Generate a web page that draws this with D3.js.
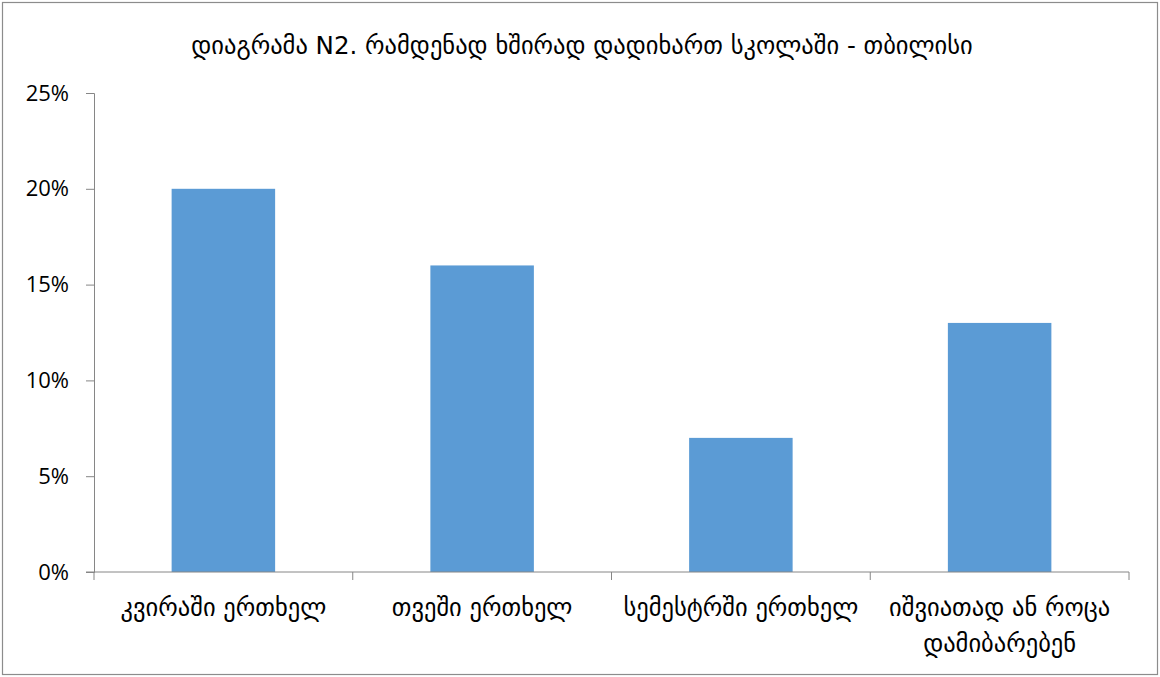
<!DOCTYPE html>
<html><head><meta charset="utf-8">
<script src="https://cdn.jsdelivr.net/npm/d3@7"></script>
<style>body{margin:0;background:#fff}svg{display:block}</style>
</head><body>
<script>
const title = "დიაგრამა N2. რამდენად ხშირად დადიხართ სკოლაში - თბილისი";
const categories = [["კვირაში ერთხელ"],["თვეში ერთხელ"],["სემესტრში ერთხელ"],["იშვიათად ან როცა","დამიბარებენ"]];
const values = [0.20, 0.16, 0.07, 0.13];
const yTicks = [0, 0.05, 0.10, 0.15, 0.20, 0.25];

(function(){
const W = 1160, H = 677;
const svg = d3.select("body").append("svg").attr("width", W).attr("height", H);
svg.append("rect").attr("x", 2.5).attr("y", 2.5).attr("width", W - 5).attr("height", H - 5)
  .attr("fill", "#fff").attr("stroke", "#8c8c8c").attr("stroke-width", 1.2);

const mLeft = 94, mRight = 1129, mTop = 93, mBottom = 572;
const x = d3.scaleBand().domain(d3.range(categories.length)).range([mLeft, mRight]).paddingInner(0.6).paddingOuter(0.3);
const xb = d3.scaleBand().domain(d3.range(categories.length)).range([mLeft, mRight]);
const y = d3.scaleLinear().domain([0, 0.25]).range([mBottom, mTop]);

svg.append("text").attr("x", 582).attr("y", 54).attr("text-anchor", "middle")
  .attr("font-family", "DejaVu Sans").attr("font-size", 24.5).attr("fill", "#000").text(title);

svg.selectAll("rect.bar").data(values).join("rect").attr("class", "bar")
  .attr("x", (d, i) => x(i)).attr("width", x.bandwidth())
  .attr("y", d => y(d)).attr("height", d => y(0) - y(d)).attr("fill", "#5B9BD5");

const yAxis = svg.append("g").attr("transform", `translate(${mLeft},0)`)
  .call(d3.axisLeft(y).tickValues(yTicks).tickFormat(d3.format(".0%")).tickSizeOuter(0).tickSize(8).tickPadding(17));
yAxis.selectAll("line,path").attr("stroke", "#868686");
yAxis.selectAll("text").attr("font-family", "Open Sans").attr("font-size", 22).attr("fill", "#000");

const xAxis = svg.append("g").attr("transform", `translate(0,${mBottom})`);
xAxis.append("line").attr("x1", mLeft - 8).attr("x2", mRight).attr("stroke", "#868686");
const tickPos = xb.domain().map(i => xb(i)).concat([mRight]);
xAxis.selectAll("line.t").data(tickPos).join("line").attr("class", "t")
  .attr("x1", d => d).attr("x2", d => d).attr("y1", 0).attr("y2", 8).attr("stroke", "#868686");
const labels = xAxis.selectAll("text").data(categories).join("text")
  .attr("text-anchor", "middle").attr("font-family", "DejaVu Sans").attr("font-size", 24.5).attr("fill", "#000");
labels.each(function(lines, i) {
  const t = d3.select(this);
  lines.forEach((l, j) => t.append("tspan").attr("x", xb(i) + xb.bandwidth() / 2).attr("y", 44 + j * 36).text(l));
});
})();
</script>
</body></html>
